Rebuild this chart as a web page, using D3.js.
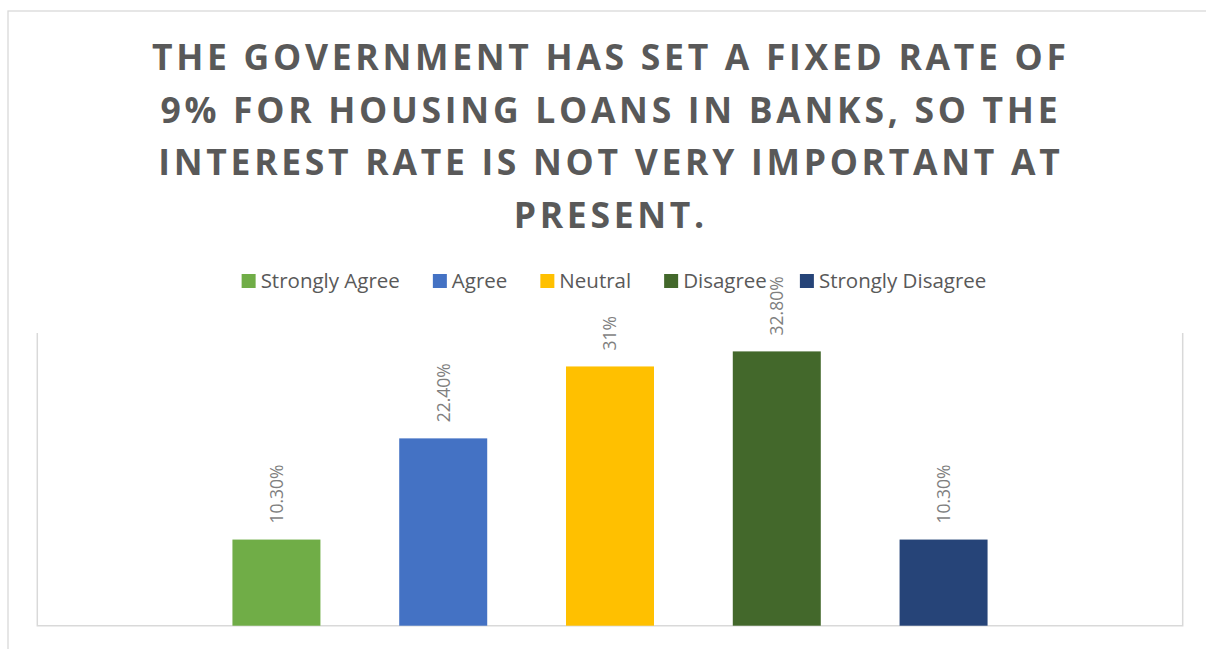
<!DOCTYPE html>
<html>
<head>
<meta charset="utf-8">
<script src="https://cdn.jsdelivr.net/npm/d3@7"></script>
<style>
  html, body { margin: 0; padding: 0; background: #fff; }
  svg { display: block; font-family: "Open Sans", "Liberation Sans", sans-serif; }
</style>
</head>
<body>
<svg id="chart" width="1206" height="649"></svg>
<script>
// Survey responses (percent of respondents)
const categories = ["Strongly Agree", "Agree", "Neutral", "Disagree", "Strongly Disagree"];
const values = [10.3, 22.4, 31, 32.8, 10.3];
const valueLabels = ["10.30%", "22.40%", "31%", "32.80%", "10.30%"];
const colors = ["#70AD47", "#4472C4", "#FFC000", "#43682B", "#264478"];
const titleLines = [
  "THE GOVERNMENT HAS SET A FIXED RATE OF",
  "9% FOR HOUSING LOANS IN BANKS, SO THE",
  "INTEREST RATE IS NOT VERY IMPORTANT AT",
  "PRESENT."
];

const svg = d3.select("#chart");
const W = 1206, H = 649;
const lineColor = "#d9d9d9";

// Chart frame
svg.append("rect")
  .attr("x", 8).attr("y", 11)
  .attr("width", W + 20).attr("height", H + 20)
  .attr("fill", "#fff")
  .attr("stroke", lineColor).attr("stroke-width", 1.3);

// Title
const title = svg.append("text")
  .attr("text-anchor", "middle")
  .attr("fill", "#595959")
  .attr("font-weight", "bold")
  .attr("font-size", 35.5);
const tspans = title.selectAll("tspan").data(titleLines).join("tspan")
  .attr("x", 609)
  .attr("y", (d, i) => 70 + i * 52.5)
  .text(d => d);
// spread letters so the longest line spans the intended width
const firstLen = tspans.node().getComputedTextLength();
const spacing = (914 - firstLen) / (titleLines[0].length - 1);
title.attr("letter-spacing", spacing);
tspans.attr("dx", spacing / 2);

// Plot area
const plot = { left: 37.3, right: 1182.7, top: 333, bottom: 625.7 };
const x = d3.scaleBand()
  .domain(categories)
  .range([plot.left, plot.right])
  .paddingInner(0.4724)
  .paddingOuter(1.17);
const y = d3.scaleLinear().domain([0, 35]).range([plot.bottom, plot.top]);

svg.append("path")
  .attr("d", `M${plot.left},${y(35)}V${y(0)}H${plot.right}V${y(35)}`)
  .attr("fill", "none")
  .attr("stroke", lineColor)
  .attr("stroke-width", 1.5);

// Bars
svg.append("g").selectAll("rect").data(categories).join("rect")
  .attr("x", d => x(d))
  .attr("y", (d, i) => y(values[i]))
  .attr("width", x.bandwidth())
  .attr("height", (d, i) => y(0) - y(values[i]))
  .attr("fill", (d, i) => colors[i]);

// Value labels, rotated
svg.append("g").selectAll("text").data(categories).join("text")
  .attr("transform", (d, i) => `translate(${x(d) + x.bandwidth() / 2},${y(values[i]) - 16}) rotate(-90)`)
  .attr("dy", "0.36em")
  .attr("text-anchor", "start")
  .attr("font-size", 17.5)
  .attr("fill", "#7f7f7f")
  .text((d, i) => valueLabels[i]);

// Legend
const legend = svg.append("g");
const items = legend.selectAll("g").data(categories).join("g");
items.append("rect")
  .attr("width", 14).attr("height", 14)
  .attr("y", -7)
  .attr("fill", (d, i) => colors[i]);
items.append("text")
  .attr("x", 19)
  .attr("dy", "0.35em")
  .attr("font-size", 20.5)
  .attr("fill", "#595959")
  .text(d => d);
let cursor = 0;
const gap = 33;
items.each(function () {
  const g = d3.select(this);
  g.attr("transform", `translate(${cursor},0)`);
  cursor += 19 + g.select("text").node().getComputedTextLength() + gap;
});
const legendWidth = cursor - gap;
legend.attr("transform", `translate(${614 - legendWidth / 2},281)`);
</script>
</body>
</html>
